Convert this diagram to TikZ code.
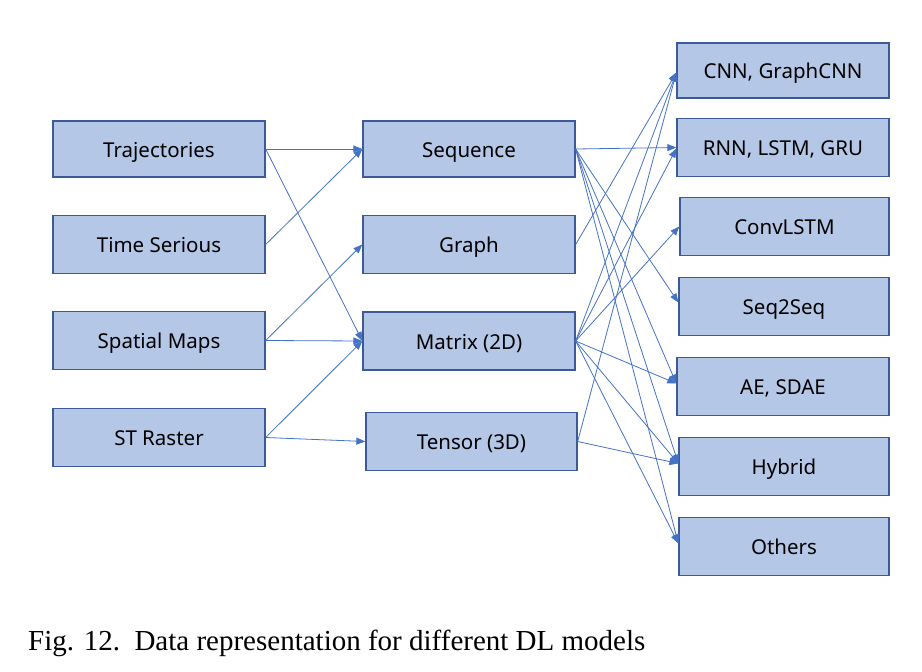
\documentclass[tikz,border=0pt]{standalone}
\usepackage{fontspec}
\setmainfont{Liberation Serif}
\newfontfamily\boxfont{Noto Sans}
\usetikzlibrary{arrows.meta}
\definecolor{boxfill}{RGB}{180,199,231}
\definecolor{boxline}{RGB}{60,90,150}
\definecolor{conn}{RGB}{68,114,196}
\begin{document}
\begin{tikzpicture}[x=1pt,y=-1pt,
  box/.style={draw=boxline, line width=1.3pt, fill=boxfill, minimum width=212pt, minimum height=58pt, inner sep=0pt, text height=17pt, text depth=1pt, font=\boxfont\fontsize{20.5}{24}\selectfont, text=black},
  conn/.style={draw=conn, line width=0.8pt, -{Triangle[length=9pt,width=7pt]}}]
\useasboundingbox (0,0) rectangle (922,672);
% left
\node[box, minimum height=56pt] (traj) at (159,149) {Trajectories};
\node[box] (ts) at (159,244.5) {Time Serious};
\node[box] (sm) at (159,340.5) {Spatial Maps};
\node[box] (str) at (159,437.5) {ST Raster};
% middle
\node[box, minimum height=56pt] (seq) at (469,149) {Sequence};
\node[box] (graph) at (469,244.5) {Graph};
\node[box] (mat) at (469,341) {Matrix (2D)};
\node[box, minimum width=211pt] (ten) at (471.5,441.5) {Tensor (3D)};
% right
\node[box, minimum height=55pt] (cnn) at (783,70.5) {CNN, GraphCNN};
\node[box] (rnn) at (783,147.5) {RNN, LSTM, GRU};
\node[box, minimum width=209pt] (clstm) at (784.5,226.5) {ConvLSTM};
\node[box, minimum width=210pt] (s2s) at (784,306.5) {Seq2Seq};
\node[box] (ae) at (783,386.5) {AE, SDAE};
\node[box, minimum width=210pt] (hyb) at (784,466.5) {Hybrid};
\node[box, minimum width=210pt] (oth) at (784,546.5) {Others};
% left -> middle
\draw[conn] (traj.east) -- (seq.west);
\draw[conn] (traj.east) -- (mat.west);
\draw[conn] (ts.east) -- (seq.west);
\draw[conn] (sm.east) -- (graph.west);
\draw[conn] (sm.east) -- (mat.west);
\draw[conn] (str.east) -- (mat.west);
\draw[conn] (str.east) -- (ten.west);
% middle -> right
\draw[conn] (seq.east) -- (rnn.west);
\draw[conn] (seq.east) -- ([yshift=4pt]s2s.west);
\draw[conn] (seq.east) -- ([yshift=3pt]ae.west);
\draw[conn] (seq.east) -- ([yshift=3pt]hyb.west);
\draw[conn] (seq.east) -- ([yshift=3pt]oth.west);
\draw[conn] (graph.east) -- ([yshift=-2pt]cnn.west);
\draw[conn] (mat.east) -- ([yshift=-2pt]cnn.west);
\draw[conn] (mat.east) -- ([yshift=-1pt]rnn.west);
\draw[conn] (mat.east) -- (clstm.west);
\draw[conn] (mat.east) -- ([yshift=3pt]ae.west);
\draw[conn] (mat.east) -- ([yshift=3pt]hyb.west);
\draw[conn] (mat.east) -- ([yshift=3pt]oth.west);
\draw[conn] (ten.east) -- ([yshift=-2pt]cnn.west);
\draw[conn] (ten.east) -- ([yshift=3pt]hyb.west);
% caption
\node[anchor=base west, inner sep=0pt, font=\fontsize{29}{33}\selectfont] (cap) at (28,650) {Fig. 12.\ \ Data representation for different DL models};
\end{tikzpicture}
\end{document}
